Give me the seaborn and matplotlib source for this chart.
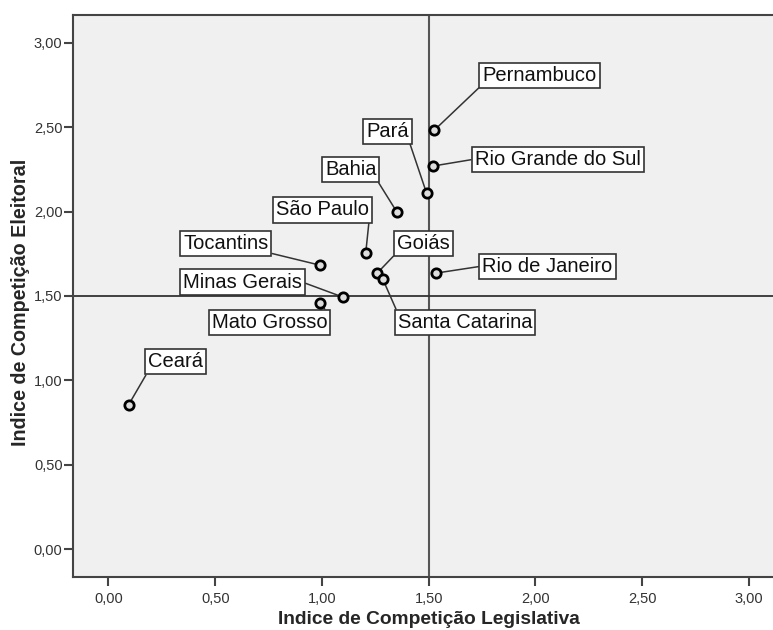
import pandas as pd
import matplotlib
matplotlib.use('Agg')
import matplotlib.pyplot as plt
import seaborn as sns


estados = ['Ceará', 'Tocantins', 'Mato Grosso', 'Minas Gerais', 'São Paulo', 'Goiás',
           'Santa Catarina', 'Bahia', 'Pará', 'Pernambuco', 'Rio Grande do Sul', 'Rio de Janeiro']
comp_legislativa = [0.094, 0.99, 0.993, 1.097, 1.205, 1.259, 1.285, 1.35, 1.49, 1.527, 1.518, 1.536]
comp_eleitoral = [0.854, 1.683, 1.458, 1.494, 1.755, 1.636, 1.60, 2.0, 2.11, 2.484, 2.27, 1.636]

ticks = [0.0, 0.5, 1.0, 1.5, 2.0, 2.5, 3.0]
tick_labels = ['0,00', '0,50', '1,00', '1,50', '2,00', '2,50', '3,00']

df = pd.DataFrame({'estado': estados, 'leg': comp_legislativa, 'ele': comp_eleitoral})

# label box offsets from point (pixels) and where the leader line leaves the box
label_pos = {
    'Ceará': ((47, 43), (0, 0)),
    'Tocantins': ((-94, 22), (1, 0)),
    'Mato Grosso': ((-51, -19), (1, 1)),
    'Minas Gerais': ((-100, 15), (1, 0.5)),
    'São Paulo': ((-43, 43), (1, 0)),
    'Goiás': ((46, 30), (0, 0)),
    'Santa Catarina': ((82, -43), (0, 1)),
    'Bahia': ((-46, 42), (1, 0)),
    'Pará': ((-39, 62), (1, 0)),
    'Pernambuco': ((105, 55), (0, 0)),
    'Rio Grande do Sul': ((125, 7), (0, 0.5)),
    'Rio de Janeiro': ((111, 7), (0, 0.5)),
}

sns.set_style('ticks')
plt.rcParams['font.family'] = ['Liberation Sans', 'DejaVu Sans']

fig = plt.figure(figsize=(7.73, 6.30), dpi=100)
ax = fig.add_axes([73 / 773, 53 / 630, 711.4 / 773, 562 / 630])
ax.set_facecolor('#f0f0f0')

ax.axvline(1.5, color='#555555', lw=1.5, zorder=1)
ax.axhline(1.5, color='#333333', lw=1.3, zorder=1)

sns.scatterplot(data=df, x='leg', y='ele', ax=ax, marker='o', s=45,
                facecolor='#dddddd', edgecolor='black', linewidth=2, zorder=4)

for i, row in df.iterrows():
    off, rel = label_pos[row['estado']]
    ax.annotate(row['estado'], xy=(row['leg'], row['ele']), xytext=off,
                textcoords='offset pixels', ha='center', va='center', fontsize=14.5,
                color='#111111', zorder=3,
                bbox=dict(boxstyle='square,pad=0.15', fc='white', ec='#333333', lw=1.2),
                arrowprops=dict(arrowstyle='-', color='#333333', lw=1.1,
                                shrinkA=0, shrinkB=3.5, relpos=rel))

ax.set_xlim(-0.166, 3.166)
ax.set_ylim(-0.166, 3.166)
ax.set_xticks(ticks)
ax.set_xticklabels(tick_labels)
ax.set_yticks(ticks)
ax.set_yticklabels(tick_labels)
ax.tick_params(axis='both', labelsize=10.5, labelcolor='#333333', color='#444444',
               length=6.5, width=1.5, direction='out')
ax.tick_params(axis='y', pad=1)
ax.tick_params(axis='x', pad=4)

for side in ['left', 'bottom', 'top']:
    ax.spines[side].set_color('#444444')
    ax.spines[side].set_linewidth(1.5)
ax.spines['right'].set_visible(False)

ax.set_xlabel('Indice de Competição Legislativa', fontsize=13.8, fontweight='bold', labelpad=4)
ax.set_ylabel('Indice de Competição Eleitoral', fontsize=14.2, fontweight='bold')
ax.yaxis.set_label_coords(-0.0604, 0.489)

fig.savefig('out.png', dpi=100)
